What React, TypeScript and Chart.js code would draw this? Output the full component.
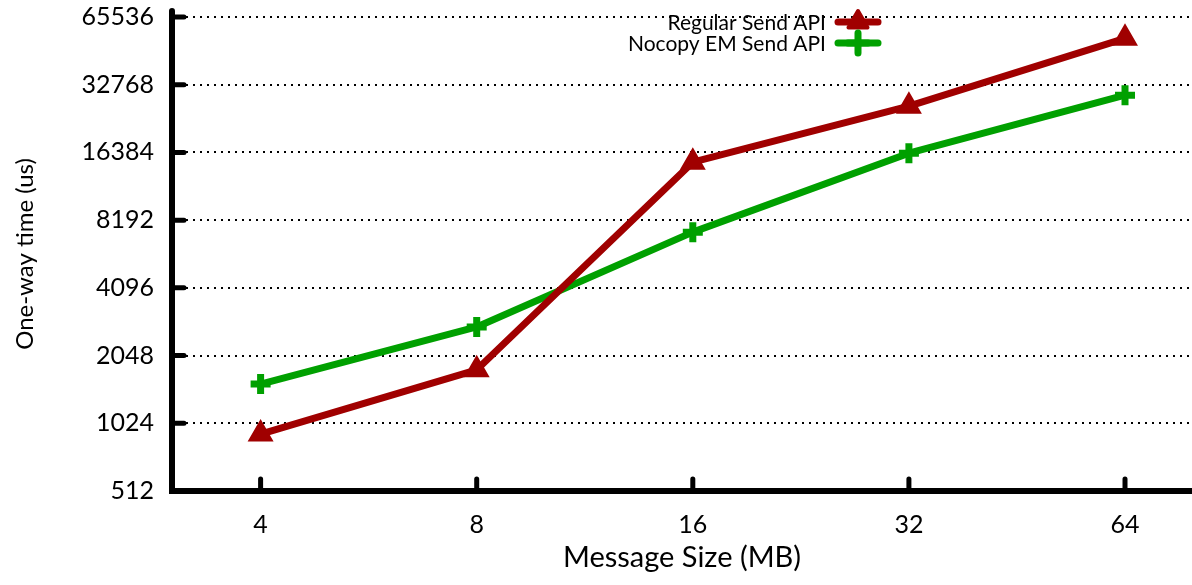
import React, { useEffect, useRef } from "react";
import { Chart, registerables } from "chart.js";

Chart.register(...registerables);

const xLabels = ["4", "8", "16", "32", "64"];
const yTickValues = [512, 1024, 2048, 4096, 8192, 16384, 32768, 65536];
const regularSend = [917, 1770, 14830, 26300, 52700];
const nocopySend = [1530, 2745, 7245, 16260, 29440];
const seriesNames = ["Regular Send API", "Nocopy EM Send API"];
const seriesColors = ["#a00000", "#00a000"];
const seriesMarkers = ["triangle", "cross"];

const FONT = "Lato, 'Open Sans', sans-serif";

function drawMarker(ctx: CanvasRenderingContext2D, style: string, x: number, y: number, r: number, color: string) {
  ctx.save();
  ctx.fillStyle = color;
  ctx.strokeStyle = color;
  ctx.lineJoin = "round";
  ctx.lineCap = "round";
  if (style === "triangle") {
    ctx.lineWidth = 4;
    ctx.beginPath();
    let rad = 0;
    ctx.moveTo(x + Math.sin(rad) * r, y - Math.cos(rad) * r);
    rad += (2 * Math.PI) / 3;
    ctx.lineTo(x + Math.sin(rad) * r, y - Math.cos(rad) * r);
    rad += (2 * Math.PI) / 3;
    ctx.lineTo(x + Math.sin(rad) * r, y - Math.cos(rad) * r);
    ctx.closePath();
    ctx.fill();
    ctx.stroke();
  } else {
    ctx.lineWidth = 7;
    ctx.beginPath();
    ctx.moveTo(x - r, y);
    ctx.lineTo(x + r, y);
    ctx.moveTo(x, y - r);
    ctx.lineTo(x, y + r);
    ctx.stroke();
  }
  ctx.restore();
}

const axesPlugin = {
  id: "gnuAxes",
  afterDraw(chart: any) {
    const ctx = chart.ctx as CanvasRenderingContext2D;
    const area = chart.chartArea;
    const xs = chart.scales.x;
    const ys = chart.scales.y;
    ctx.save();
    ctx.strokeStyle = "#000";
    ctx.lineCap = "round";
    ctx.lineWidth = 6;
    ctx.beginPath();
    ctx.moveTo(area.left, area.top - 6);
    ctx.lineTo(area.left, area.bottom);
    ctx.lineTo(chart.width + 5, area.bottom);
    ctx.stroke();
    ctx.lineWidth = 5;
    ctx.beginPath();
    for (const v of yTickValues) {
      const py = ys.getPixelForValue(v);
      ctx.moveTo(area.left, py);
      ctx.lineTo(area.left + 12, py);
    }
    for (let i = 0; i < xLabels.length; i++) {
      const px = xs.getPixelForValue(i);
      ctx.moveTo(px, area.bottom);
      ctx.lineTo(px, area.bottom - 12);
    }
    ctx.stroke();
    ctx.restore();

    // legend
    ctx.save();
    ctx.font = `21px ${FONT}`;
    ctx.fillStyle = "#000";
    ctx.textAlign = "right";
    ctx.textBaseline = "middle";
    const rows = [22, 43];
    for (let i = 0; i < seriesNames.length; i++) {
      const ry = rows[i];
      ctx.fillText(seriesNames[i], 826, ry + 1);
      ctx.strokeStyle = seriesColors[i];
      ctx.lineWidth = 7;
      ctx.lineCap = "round";
      ctx.beginPath();
      ctx.moveTo(838, ry);
      ctx.lineTo(878, ry);
      ctx.stroke();
      drawMarker(ctx, seriesMarkers[i], 858, ry, i === 0 ? 11 : 10, seriesColors[i]);
    }
    ctx.restore();
  },
};

export default function App() {
  const ref = useRef<HTMLCanvasElement | null>(null);
  useEffect(() => {
    if (!ref.current) return;
    const chart = new Chart(ref.current, {
      type: "line",
      data: {
        datasets: [regularSend, nocopySend].map((vals, di) => ({
          label: seriesNames[di],
          data: vals.map((v, i) => ({ x: i, y: v })),
          borderColor: seriesColors[di],
          backgroundColor: seriesColors[di],
          borderWidth: 7,
          borderJoinStyle: "round" as const,
          borderCapStyle: "round" as const,
          pointStyle: seriesMarkers[di] as any,
          pointRadius: di === 0 ? 11 : 10,
          pointBorderWidth: di === 0 ? 4 : 7,
          pointBackgroundColor: seriesColors[di],
          pointBorderColor: seriesColors[di],
          tension: 0,
          fill: false,
          clip: false as any,
        })),
      },
      options: {
        responsive: false,
        animation: false,
        devicePixelRatio: 1,
        layout: { autoPadding: false, padding: { top: 17, left: 0, right: 0, bottom: 0 } },
        plugins: { legend: { display: false }, tooltip: { enabled: false } },
        scales: {
          x: {
            type: "linear",
            min: -0.41,
            max: 4.31,
            afterBuildTicks: (s: any) => {
              s.ticks = xLabels.map((_, i) => ({ value: i }));
            },
            afterFit: (s: any) => {
              s.height = 94;
              s.paddingRight = 0;
              s.paddingLeft = 0;
            },
            grid: {
              display: true,
              drawOnChartArea: false,
              drawTicks: true,
              tickLength: 19,
              tickColor: "rgba(0,0,0,0)",
            },
            border: { display: false },
            ticks: {
              callback: (v: any) => xLabels[v] ?? "",
              color: "#000",
              font: { family: FONT, size: 25 },
              padding: 0,
              maxRotation: 0,
            },
            title: {
              display: true,
              text: "Message Size (MB)",
              color: "#000",
              font: { family: FONT, size: 29 },
              padding: { top: 0, bottom: 10 },
            },
          },
          y: {
            type: "logarithmic",
            min: 512,
            max: 65536,
            afterBuildTicks: (s: any) => {
              s.ticks = yTickValues.map((v) => ({ value: v }));
            },
            afterFit: (s: any) => {
              s.width = 172;
            },
            grid: {
              color: "#000",
              lineWidth: 2,
              drawTicks: true,
              tickLength: 18,
              tickColor: "rgba(0,0,0,0)",
            },
            border: { display: false, dash: [2, 5] },
            ticks: {
              callback: (v: any) => String(v),
              color: "#000",
              font: { family: FONT, size: 25 },
              padding: 0,
            },
            title: {
              display: true,
              text: "One-way time (us)",
              color: "#000",
              font: { family: FONT, size: 24 },
              padding: { top: 11, bottom: 0 },
            },
          },
        },
      },
      plugins: [axesPlugin],
    });
    return () => chart.destroy();
  }, []);
  return (
    <div style={{ position: "fixed", left: 0, top: 0, width: 1192, height: 585, background: "#fff" }}>
      <canvas ref={ref} width={1192} height={585} style={{ display: "block" }} />
    </div>
  );
}
